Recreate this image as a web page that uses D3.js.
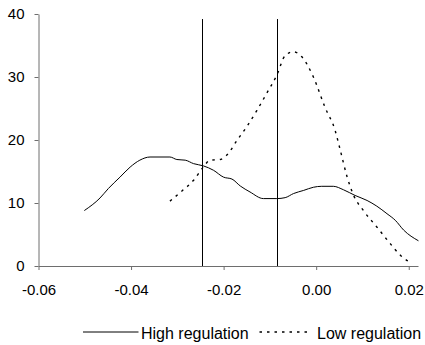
<!DOCTYPE html>
<html>
<head>
<meta charset="utf-8">
<script src="https://cdn.jsdelivr.net/npm/d3@7"></script>
<style>
    body { margin: 0; background: #fff; }
    svg { display: block; }
    text { font-family: "Liberation Sans", Arial, sans-serif; fill: #000; }
</style>
</head>
<body>
<svg id="chart" width="425" height="345"></svg>
<script>
"use strict";

// Density curves.
const highX = [-0.0501, -0.0467, -0.0449, -0.0424, -0.0402, -0.0381, -0.0359, -0.0316, -0.0301, -0.0283,
    -0.0265, -0.0244, -0.0222, -0.0200, -0.0182, -0.0164, -0.0143, -0.0114, -0.0085, -0.0067,
    -0.0049, -0.0027, -0.0006, 0.0012, 0.0037, 0.0059, 0.0084, 0.0110, 0.0131, 0.0153,
    0.0171, 0.0189, 0.0221];
const highY = [8.8, 10.8, 12.3, 14.1, 15.7, 16.8, 17.3, 17.3, 16.9, 16.8,
    16.25, 15.9, 15.2, 14.1, 13.8, 12.7, 11.75, 10.7, 10.7, 10.85,
    11.5, 12.0, 12.5, 12.65, 12.65, 12.1, 11.2, 10.4, 9.5, 8.3,
    7.25, 5.7, 4.0];

const lowX = [-0.0316, -0.0290, -0.0265, -0.0244, -0.0229, -0.0208, -0.0193, -0.0171, -0.0150, -0.0128,
    -0.0107, -0.0085, -0.0067, -0.0049, -0.0031, -0.0006, 0.0019, 0.0041, 0.0052, 0.0067,
    0.0081, 0.0102, 0.0131, 0.0160, 0.0182, 0.0207];
const lowY = [10.3, 11.9, 13.6, 15.7, 16.8, 16.9, 17.6, 19.95, 22.1, 24.7,
    27.4, 30.3, 33.4, 34.0, 33.2, 30.0, 25.2, 21.5, 18.4, 14.1,
    11.2, 8.8, 6.2, 3.55, 1.7, 0.4];

// Vertical reference lines (x position, top value).
const refX = [-0.0246, -0.0085];
const refTop = 39.2;

const xTicks = [-0.06, -0.04, -0.02, 0.00, 0.02];
const yTicks = [0, 10, 20, 30, 40];

const seriesNames = ["High regulation", "Low regulation"];

const AXIS_COLOR = "#6e6e6e";
const DASH = "2.5,5";

let svg = d3.select("#chart");

let x = d3.scaleLinear().domain([-0.06, 0.022]).range([38.5, 418]);
let y = d3.scaleLinear().domain([0, 40]).range([266, 14]);

// Axes.
let xAxis = svg.append("g")
    .attr("transform", "translate(0," + y(0) + ")")
    .call(d3.axisBottom(x).tickValues(xTicks).tickFormat(d3.format(".2f"))
        .tickSize(4).tickSizeOuter(0).tickPadding(14));
let yAxis = svg.append("g")
    .attr("transform", "translate(" + x(-0.06) + ",0)")
    .call(d3.axisLeft(y).tickValues(yTicks).tickFormat(d3.format("d"))
        .tickSize(4).tickSizeOuter(0).tickPadding(10));

[xAxis, yAxis].forEach(function (axis) {
    axis.selectAll("path, line").attr("stroke", AXIS_COLOR);
    axis.selectAll("text")
        .attr("fill", "#000")
        .style("font-size", "15px")
        .style("font-family", "'Liberation Sans', Arial, sans-serif");
});
// d3 prints a unicode minus, the original uses a hyphen.
xAxis.selectAll("text").text(function (d) { return d3.format(".2f")(d).replace("\u2212", "-"); });

// Reference lines.
svg.selectAll(".ref")
    .data(refX)
    .enter().append("line")
    .attr("class", "ref")
    .attr("x1", function (d) { return Math.round(x(d)) + 0.5; })
    .attr("x2", function (d) { return Math.round(x(d)) + 0.5; })
    .attr("y1", y(refTop))
    .attr("y2", y(0))
    .attr("stroke", "#000")
    .attr("stroke-width", 1);

let line = d3.line()
    .x(function (d) { return x(d[0]); })
    .y(function (d) { return y(d[1]); })
    .curve(d3.curveMonotoneX);

svg.append("path")
    .datum(d3.zip(highX, highY))
    .attr("d", line)
    .attr("fill", "none")
    .attr("stroke", "#000")
    .attr("stroke-width", 1);

svg.append("path")
    .datum(d3.zip(lowX, lowY))
    .attr("d", line)
    .attr("fill", "none")
    .attr("stroke", "#000")
    .attr("stroke-width", 1.4)
    .attr("stroke-dasharray", DASH);

// Legend.
let legend = svg.append("g").attr("transform", "translate(0,332)");
let legendItems = [
    {x1: 83, x2: 138.5, tx: 141, dash: null},
    {x1: 259.5, x2: 312, tx: 317, dash: DASH}
];
legendItems.forEach(function (item, i) {
    legend.append("line")
        .attr("x1", item.x1)
        .attr("x2", item.x2)
        .attr("y1", 0)
        .attr("y2", 0)
        .attr("stroke", "#000")
        .attr("stroke-width", item.dash ? 1.4 : 1)
        .attr("stroke-dasharray", item.dash);
    legend.append("text")
        .attr("x", item.tx)
        .attr("y", 7)
        .style("font-size", "16px")
        .text(seriesNames[i]);
});
</script>
</body>
</html>
